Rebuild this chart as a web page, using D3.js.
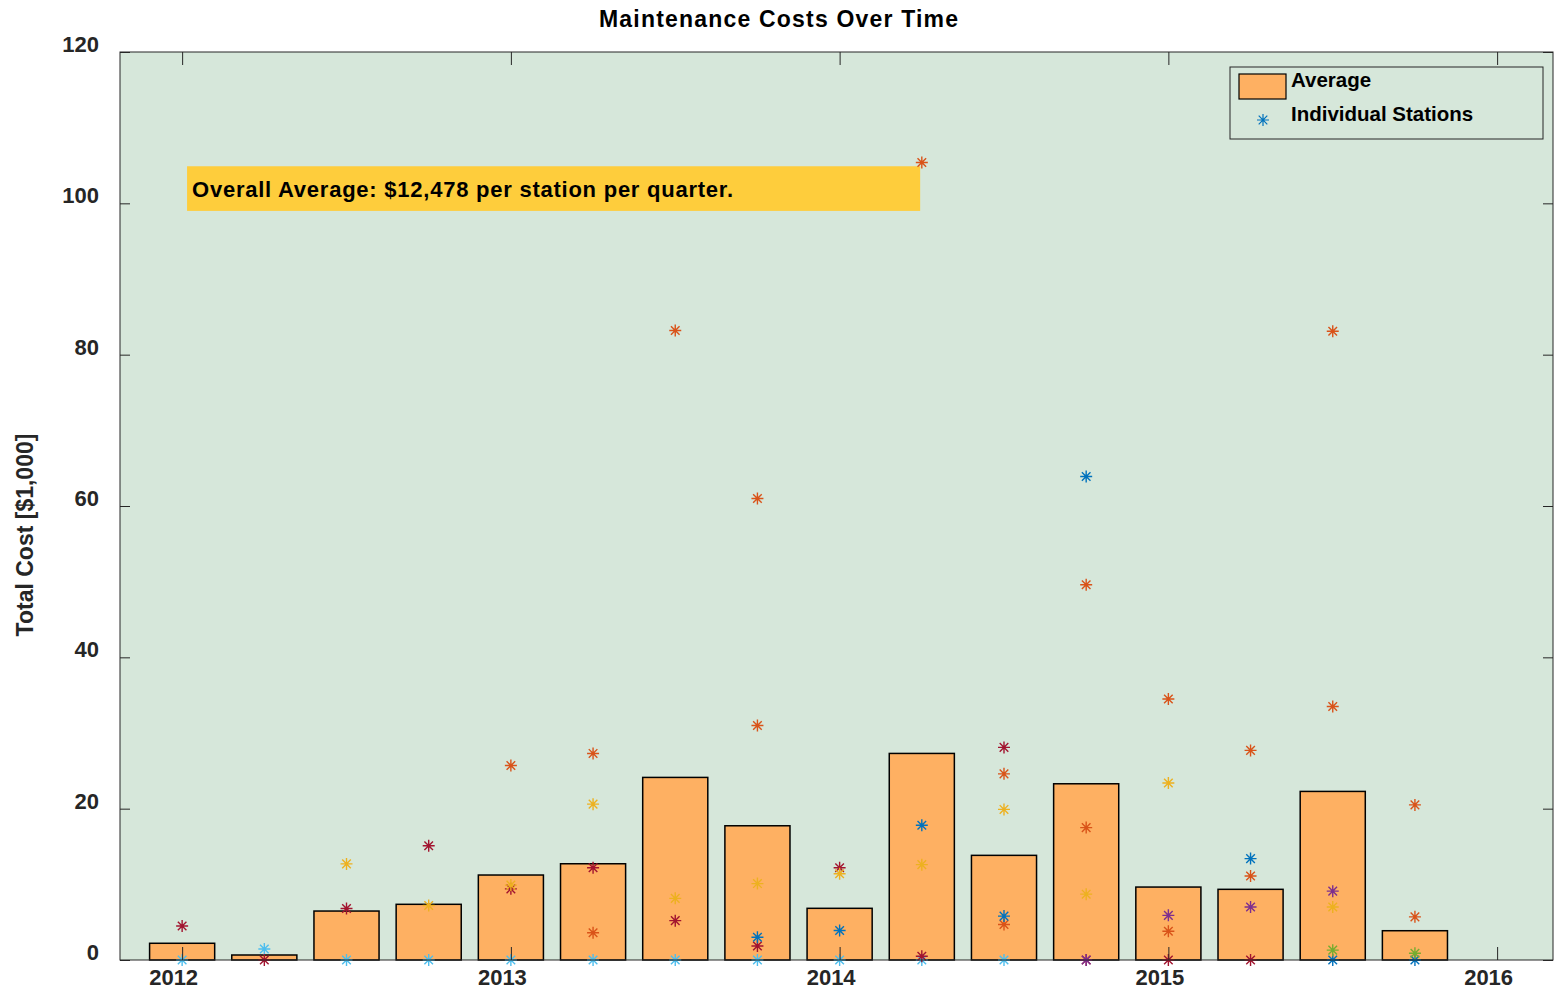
<!DOCTYPE html>
<html lang="en">
<head>
    <meta charset="UTF-8">
    <title>Maintenance Costs Over Time</title>
    <script src="https://d3js.org/d3.v7.min.js"></script>
    <style>
        body { margin: 0; background: #fff; font-family: "Liberation Sans", Arial, sans-serif; }
        svg text { font-weight: bold; fill: #262626; }
    </style>
</head>
<body>
<svg width="1554" height="993"></svg>
<script>
    // quarter start, as decimal year
    const quarters = [2012.00, 2012.25, 2012.50, 2012.75, 2013.00, 2013.25, 2013.50, 2013.75,
                      2014.00, 2014.25, 2014.50, 2014.75, 2015.00, 2015.25, 2015.50, 2015.75];
    const avgCost = [2.21, 0.66, 6.47, 7.36, 11.23, 12.72, 24.13, 17.74,
                     6.83, 27.3, 13.83, 23.29, 9.64, 9.34, 22.28, 3.87];

    // individual stations, null = no report that quarter
    const lightBlue = [0, 1.45, 0, 0, 0, 0, 0, 0, 0, 0, 0, null, null, null, null, null];
    const darkRed   = [4.5, 0, 6.8, 15.1, 9.4, 12.2, 5.2, 1.85, 12.2, 0.5, 28.1, 0, 0, 0, null, null];
    const yellow    = [null, null, 12.7, 7.2, 9.9, 20.6, 8.15, 10.1, 11.4, 12.6, 19.9, 8.7, 23.4, null, 7.0, null];
    const orangeA   = [null, null, null, null, 25.7, 27.3, 83.2, 61.0, null, 105.4, 24.6, 49.6, 34.5, 27.7, 83.1, 20.5];
    const orangeB   = [null, null, null, null, null, 3.6, null, 31.0, null, null, 4.7, 17.5, 3.8, 11.1, 33.5, 5.7];
    const blue      = [null, null, null, null, null, null, null, 3.0, 3.9, 17.8, 5.8, 63.9, null, 13.4, 0, 0];
    const purple    = [null, null, null, null, null, null, null, null, null, null, null, 0, 5.9, 7.0, 9.1, null];
    const green     = [null, null, null, null, null, null, null, null, null, null, null, null, null, null, 1.3, 0.9];

    const stations = [
        {values: lightBlue, color: "#4DBEEE"},
        {values: darkRed,   color: "#A2142F"},
        {values: yellow,    color: "#EDB120"},
        {values: orangeA,   color: "#D95319"},
        {values: orangeB,   color: "#D95319"},
        {values: blue,      color: "#0072BD"},
        {values: purple,    color: "#7E2F8E"},
        {values: green,     color: "#77AC30"}
    ];

    const yearTicks = [2012, 2013, 2014, 2015, 2016];
    const costTicks = [0, 20, 40, 60, 80, 100, 120];
    const overallText = "Overall Average: $12,478 per station per quarter.";

    const svg = d3.select("svg");
    const plotL = 120, plotR = 1553, plotT = 52, plotB = 960;

    const x = d3.scaleLinear().domain([2011.811, 2016.17]).range([plotL, plotR]);
    const y = d3.scaleLinear().domain([0, 120]).range([plotB, plotT]);

    // plot background
    svg.append("rect")
        .attr("x", plotL).attr("y", plotT)
        .attr("width", plotR - plotL).attr("height", plotB - plotT)
        .attr("fill", "#d6e7da");

    // annotation box
    svg.append("rect")
        .attr("x", x(2012.015)).attr("y", y(104.9))
        .attr("width", x(2014.245) - x(2012.015))
        .attr("height", y(99.0) - y(104.9))
        .attr("fill", "#fecd3c");
    svg.append("text")
        .attr("x", x(2012.015) + 5).attr("y", y(101.9))
        .attr("dy", "0.35em")
        .attr("textLength", 541).attr("lengthAdjust", "spacing")
        .style("font-size", "22px")
        .style("fill", "#000")
        .text(overallText);

    // bars
    const halfW = 0.099;
    svg.append("g").selectAll("rect")
        .data(quarters)
        .join("rect")
        .attr("x", (q) => x(q - halfW))
        .attr("width", (q) => x(q + halfW) - x(q - halfW))
        .attr("y", (q, i) => y(avgCost[i]))
        .attr("height", (q, i) => y(0) - y(avgCost[i]))
        .attr("fill", "#feb062")
        .attr("stroke", "#000")
        .attr("stroke-width", 1.5);

    // asterisk marker
    const star = "M-6,0H6M0,-6V6M-4.3,-4.3L4.3,4.3M-4.3,4.3L4.3,-4.3";

    const pts = [];
    stations.forEach(s => s.values.forEach((v, i) => {
        if (v !== null) pts.push({q: quarters[i], v: v, color: s.color});
    }));

    svg.append("g").selectAll("path")
        .data(pts)
        .join("path")
        .attr("d", star)
        .attr("transform", d => `translate(${x(d.q)},${y(d.v)})`)
        .attr("stroke", d => d.color)
        .attr("stroke-width", 1.4)
        .attr("fill", "none");

    // axes, ticks pointing inward
    const axisColor = "#262626";
    const xAxis = svg.append("g").attr("transform", `translate(0,${plotB})`)
        .call(d3.axisBottom(x).tickValues(yearTicks).tickFormat(d3.format("d")).tickSize(-13).tickPadding(14));
    const xTop = svg.append("g").attr("transform", `translate(0,${plotT})`)
        .call(d3.axisTop(x).tickValues(yearTicks).tickFormat("").tickSize(-13));
    const yAxis = svg.append("g").attr("transform", `translate(${plotL},0)`)
        .call(d3.axisLeft(y).tickValues(costTicks).tickSize(-10).tickPadding(21));
    const yRight = svg.append("g").attr("transform", `translate(${plotR},0)`)
        .call(d3.axisRight(y).tickValues(costTicks).tickFormat("").tickSize(-10));

    [xAxis, xTop, yAxis, yRight].forEach(a => {
        a.select(".domain").remove();
        a.selectAll("line").attr("stroke", axisColor);
        a.selectAll("text").style("font-size", "22px").style("fill", axisColor)
            .style("font-family", "'Liberation Sans', Arial, sans-serif");
    });
    xAxis.selectAll("text").attr("dy", "0.5em").attr("dx", -9);
    yAxis.selectAll("text").attr("dy", "-0.02em");

    svg.append("rect")
        .attr("x", plotL).attr("y", plotT)
        .attr("width", plotR - plotL).attr("height", plotB - plotT)
        .attr("fill", "none").attr("stroke", axisColor).attr("stroke-width", 1);

    // title and label
    svg.append("text")
        .attr("x", 599).attr("y", 27)
        .attr("textLength", 359).attr("lengthAdjust", "spacing")
        .style("font-size", "23px").style("fill", "#000")
        .text("Maintenance Costs Over Time");
    svg.append("text")
        .attr("transform", "translate(33,535) rotate(-90)")
        .attr("text-anchor", "middle")
        .style("font-size", "23px")
        .text("Total Cost [$1,000]");

    // legend
    const lg = svg.append("g").attr("transform", "translate(1230,67)");
    lg.append("rect").attr("width", 313).attr("height", 72)
        .attr("fill", "#d6e7da").attr("stroke", axisColor);
    lg.append("rect").attr("x", 9).attr("y", 7).attr("width", 47).attr("height", 25)
        .attr("fill", "#feb062").attr("stroke", "#000").attr("stroke-width", 1.2);
    lg.append("text").attr("x", 61).attr("y", 13).attr("dy", "0.35em")
        .style("font-size", "20.5px").style("fill", "#000").text("Average");
    lg.append("path").attr("d", star).attr("transform", "translate(33,53)")
        .attr("stroke", "#0072BD").attr("stroke-width", 1.2).attr("fill", "none");
    lg.append("text").attr("x", 61).attr("y", 47).attr("dy", "0.35em")
        .style("font-size", "20.5px").style("fill", "#000").text("Individual Stations");
</script>
</body>
</html>
